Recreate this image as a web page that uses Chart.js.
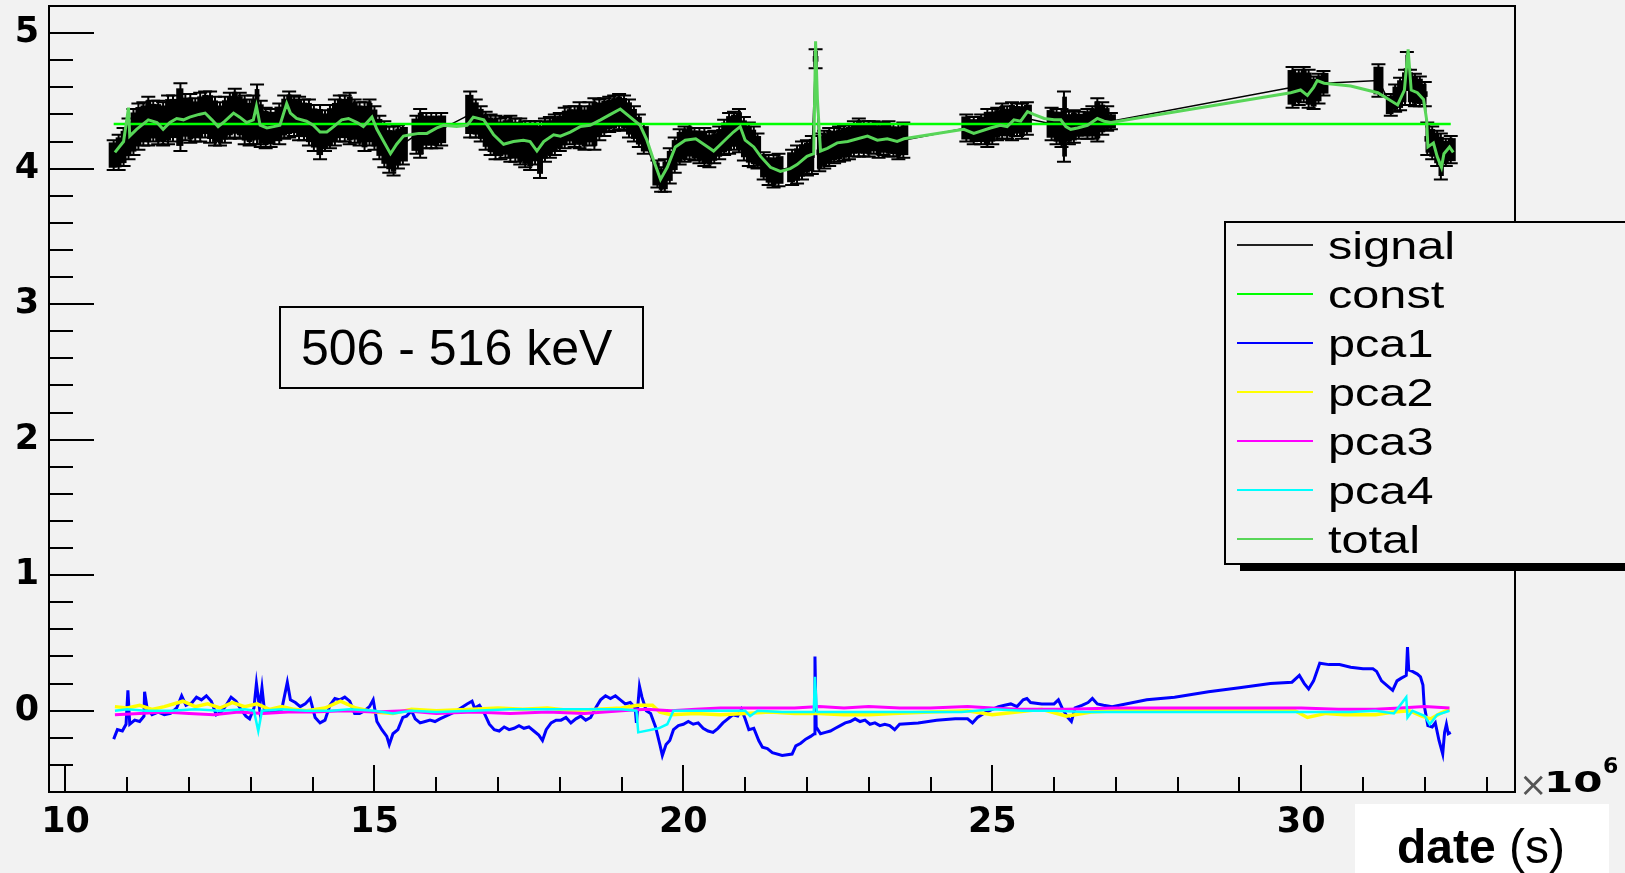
<!DOCTYPE html>
<html>
<head>
<meta charset="utf-8">
<script src="https://cdn.jsdelivr.net/npm/chart.js@4.4.1/dist/chart.umd.min.js"></script>
<style>
html,body{margin:0;padding:0;background:#f2f2f2;overflow:hidden}
canvas{display:block}
</style>
</head>
<body>
<canvas id="c" width="1625" height="873"></canvas>
<script>
// ---- data (x in units of 10^6 s) ----
const sigX = [10.78,10.86,10.94,11.02,11.10,11.18,11.26,11.34,11.42,11.50,11.58,11.66,11.74,11.86,11.94,12.02,12.10,12.18,12.26,12.34,12.42,12.50,12.58,12.66,12.74,12.82,12.90,12.98,13.04,13.10,13.16,13.24,13.32,
  13.46,13.54,13.62,13.70,13.78,13.86,13.94,14.02,14.12,14.20,14.28,14.36,14.44,14.52,14.60,14.68,14.76,14.84,14.92,15.00,15.08,15.16,15.24,15.31,15.38,15.46,
  15.68,15.74,15.84,15.92,16.00,16.08,16.55,
  16.64,16.72,16.80,16.88,16.96,17.04,17.12,17.20,17.28,17.36,17.44,17.52,17.60,17.68,17.76,17.84,17.92,18.00,18.08,18.16,18.24,18.32,18.40,18.48,18.56,18.64,18.72,18.80,18.88,18.96,19.04,19.12,19.20,19.28,19.36,
  19.58,19.64,19.70,19.78,19.86,19.94,20.02,20.10,20.18,20.26,20.34,20.42,20.50,20.58,20.66,20.74,20.82,20.90,20.98,21.06,21.14,21.20,
  21.30,21.38,21.46,21.54,
  21.76,21.84,21.92,22.00,22.08,22.14,22.20,22.28,22.36,22.44,22.52,22.60,22.68,22.76,22.84,22.92,23.00,23.08,23.16,23.24,23.32,23.40,23.48,23.56,
  24.58,24.70,24.82,24.92,25.00,25.08,25.16,25.24,25.32,25.40,25.48,25.56,
  25.96,26.04,26.12,26.16,26.24,26.32,26.40,
  26.54,26.62,26.70,26.78,26.86,26.92,
  29.86,29.96,30.04,30.12,30.20,30.28,30.36,31.25,
  31.45,31.52,31.60,31.68,31.71,31.76,31.84,31.92,32.00,
  32.04,32.12,32.20,32.26,32.34,32.42];
const sigY = [4.10,4.12,4.16,4.22,4.27,4.31,4.33,4.35,4.35,4.34,4.33,4.36,4.37,4.38,4.38,4.37,4.36,4.38,4.40,4.38,4.35,4.33,4.36,4.39,4.41,4.39,4.36,4.34,4.36,4.40,4.33,4.30,4.30,
  4.33,4.38,4.40,4.39,4.37,4.36,4.34,4.30,4.27,4.28,4.31,4.34,4.37,4.37,4.37,4.35,4.33,4.31,4.34,4.30,4.23,4.18,4.14,4.13,4.16,4.18,
  4.25,4.26,4.28,4.28,4.28,4.29,4.40,
  4.37,4.33,4.28,4.25,4.23,4.22,4.23,4.22,4.21,4.20,4.18,4.17,4.19,4.14,4.21,4.23,4.25,4.27,4.30,4.32,4.31,4.32,4.30,4.33,4.33,4.36,4.38,4.40,4.41,4.42,4.41,4.37,4.33,4.28,4.22,
  3.96,3.92,3.95,4.02,4.10,4.16,4.18,4.20,4.18,4.17,4.16,4.14,4.16,4.19,4.23,4.26,4.28,4.28,4.22,4.18,4.16,4.13,
  4.02,3.99,3.98,3.99,
  4.01,4.03,4.06,4.08,4.10,4.81,4.12,4.14,4.16,4.17,4.18,4.19,4.20,4.22,4.23,4.22,4.22,4.23,4.21,4.22,4.22,4.21,4.20,4.21,
  4.30,4.28,4.29,4.30,4.31,4.33,4.35,4.34,4.35,4.36,4.35,4.37,
  4.33,4.31,4.30,4.31,4.30,4.31,4.32,
  4.33,4.34,4.36,4.37,4.37,4.35,
  4.60,4.60,4.62,4.59,4.56,4.59,4.63,4.65,
  4.47,4.52,4.55,4.60,4.72,4.60,4.58,4.57,4.55,
  4.22,4.19,4.15,4.09,4.12,4.14];
const sigE = [0.11,0.13,0.14,0.15,0.17,0.17,0.16,0.18,0.15,0.16,0.16,0.18,0.17,0.25,0.17,0.18,0.16,0.18,0.17,0.19,0.18,0.16,0.17,0.17,0.18,0.17,0.18,0.17,0.18,0.22,0.17,0.15,0.14,
  0.15,0.16,0.17,0.15,0.16,0.15,0.17,0.17,0.20,0.15,0.16,0.17,0.17,0.17,0.19,0.16,0.16,0.18,0.17,0.16,0.16,0.17,0.17,0.18,0.16,0.15,
  0.14,0.18,0.13,0.13,0.13,0.12,0.17,
  0.14,0.13,0.14,0.15,0.16,0.15,0.15,0.17,0.16,0.17,0.17,0.18,0.16,0.21,0.16,0.15,0.15,0.14,0.15,0.14,0.15,0.17,0.16,0.16,0.19,0.15,0.14,0.13,0.13,0.13,0.13,0.14,0.13,0.12,0.11,
  0.10,0.09,0.12,0.13,0.13,0.13,0.13,0.13,0.12,0.13,0.14,0.13,0.12,0.12,0.13,0.15,0.14,0.16,0.16,0.16,0.15,0.13,
  0.10,0.11,0.12,0.12,
  0.13,0.14,0.14,0.13,0.14,0.07,0.14,0.14,0.14,0.13,0.13,0.13,0.13,0.13,0.14,0.13,0.13,0.12,0.13,0.12,0.13,0.12,0.13,0.13,
  0.10,0.10,0.11,0.14,0.13,0.12,0.13,0.12,0.14,0.12,0.13,0.12,
  0.12,0.13,0.14,0.26,0.12,0.12,0.10,
  0.11,0.12,0.16,0.12,0.09,0.06,
  0.15,0.13,0.13,0.14,0.12,0.11,0.09,0.12,
  0.08,0.10,0.12,0.13,0.14,0.13,0.12,0.11,0.09,
  0.12,0.12,0.13,0.17,0.10,0.10];

const constX = [10.78, 32.42];
const constY = [4.33, 4.33];

const totX = [10.80,10.94,11.02,11.04,11.15,11.26,11.34,11.48,11.58,11.69,11.80,11.91,12.01,12.16,12.26,12.37,12.47,12.58,12.72,12.82,
  12.93,13.04,13.09,13.15,13.26,13.37,13.47,13.58,13.64,13.74,13.90,14.01,14.12,14.23,14.34,14.47,14.58,14.72,14.82,14.96,
  15.04,15.15,15.26,15.36,15.47,15.58,15.72,15.85,16.01,16.12,16.33,16.50,16.60,16.77,16.93,17.09,17.25,17.41,17.52,17.63,
  17.74,17.90,18.01,18.17,18.33,18.49,18.66,18.82,18.98,19.14,19.30,19.41,19.52,19.63,19.74,19.87,20.03,20.20,20.36,20.49,
  20.65,20.81,20.92,21.00,21.14,21.25,21.41,21.57,21.73,21.84,22.00,22.11,22.14,22.17,22.22,22.33,22.49,22.66,22.82,22.98,
  23.14,23.30,23.46,23.57,24.54,24.70,24.97,25.13,25.24,25.35,25.46,25.57,25.67,25.84,26.00,26.11,26.19,26.27,26.38,26.54,
  26.70,26.81,26.92,29.83,29.99,30.10,30.20,30.26,30.37,30.80,31.24,31.56,31.67,31.73,31.78,31.88,31.98,32.03,32.05,32.14,
  32.20,32.27,32.31,32.40,32.46];
const totY = [4.12,4.20,4.45,4.24,4.29,4.33,4.36,4.34,4.29,4.34,4.37,4.36,4.38,4.40,4.41,4.36,4.31,4.35,4.41,4.38,
  4.34,4.36,4.46,4.32,4.30,4.31,4.32,4.48,4.41,4.37,4.35,4.32,4.27,4.27,4.31,4.36,4.37,4.34,4.31,4.38,
  4.29,4.20,4.11,4.18,4.24,4.25,4.26,4.26,4.30,4.32,4.31,4.32,4.38,4.36,4.25,4.18,4.20,4.21,4.20,4.13,
  4.20,4.25,4.24,4.27,4.31,4.32,4.36,4.40,4.44,4.38,4.32,4.21,4.06,3.92,4.01,4.16,4.21,4.22,4.17,4.13,
  4.20,4.27,4.31,4.21,4.16,4.09,4.01,3.98,4.00,4.03,4.09,4.11,4.94,4.51,4.13,4.15,4.19,4.20,4.22,4.24,
  4.21,4.22,4.20,4.22,4.29,4.26,4.30,4.32,4.31,4.36,4.35,4.42,4.40,4.37,4.36,4.36,4.31,4.29,4.30,4.32,
  4.37,4.35,4.34,4.56,4.58,4.54,4.60,4.65,4.63,4.61,4.56,4.47,4.58,4.88,4.58,4.56,4.51,4.36,4.16,4.19,
  4.09,4.01,4.11,4.16,4.12];

const pca1X = [10.78,10.84,10.92,10.98,11.01,11.04,11.12,11.20,11.27,11.28,11.32,11.40,11.50,11.60,11.70,11.80,11.88,11.95,12.05,12.12,
  12.20,12.28,12.36,12.44,12.52,12.60,12.68,12.76,12.84,12.92,12.98,13.05,13.09,13.14,13.18,13.22,13.30,13.40,13.50,13.59,
  13.64,13.72,13.80,13.88,13.96,14.04,14.12,14.20,14.28,14.36,14.44,14.52,14.60,14.68,14.76,14.84,14.92,14.98,15.04,15.12,
  15.20,15.24,15.30,15.38,15.46,15.52,15.60,15.66,15.74,15.82,15.90,15.98,16.06,16.30,16.50,16.58,16.62,16.70,16.78,16.86,
  16.94,17.02,17.10,17.18,17.26,17.34,17.42,17.50,17.58,17.66,17.72,17.78,17.86,17.94,18.02,18.10,18.18,18.26,18.34,18.42,
  18.50,18.58,18.66,18.74,18.82,18.90,18.98,19.06,19.14,19.22,19.24,19.29,19.33,19.40,19.47,19.55,19.62,19.66,19.72,19.78,
  19.84,19.92,20.00,20.08,20.16,20.24,20.32,20.40,20.48,20.56,20.64,20.72,20.80,20.88,20.94,21.00,21.06,21.14,21.22,21.28,
  21.36,21.44,21.60,21.76,21.82,21.90,21.98,22.06,22.12,22.13,22.15,22.22,22.30,22.38,22.46,22.54,22.62,22.70,22.78,22.86,
  22.94,23.02,23.10,23.18,23.26,23.34,23.42,23.50,23.80,24.10,24.40,24.60,24.68,24.76,24.90,25.00,25.10,25.20,25.30,25.40,
  25.50,25.56,25.62,25.80,26.00,26.07,26.14,26.22,26.28,26.34,26.45,26.55,26.62,26.70,26.80,26.94,27.50,27.95,28.50,29.00,
  29.50,29.85,29.97,30.05,30.12,30.20,30.30,30.45,30.62,30.80,31.00,31.16,31.22,31.30,31.48,31.55,31.62,31.70,31.72,31.74,
  31.80,31.88,31.93,31.97,31.99,32.05,32.12,32.17,32.23,32.29,32.32,32.35,32.38,32.42];
const pca1Y = [-0.21,-0.14,-0.15,-0.10,0.15,-0.10,-0.07,-0.08,-0.04,0.14,0.02,-0.03,-0.01,-0.03,-0.02,0.02,0.11,0.04,0.06,0.10,
  0.08,0.11,0.07,-0.03,-0.01,0.04,0.10,0.07,0.01,-0.04,-0.06,0.02,0.20,0.02,0.17,0.00,0.00,-0.01,0.01,0.21,
  0.08,0.06,0.03,0.05,0.09,-0.05,-0.09,-0.07,0.04,0.09,0.08,0.10,0.07,-0.02,-0.02,0.00,0.03,0.08,-0.08,-0.14,
  -0.19,-0.25,-0.17,-0.14,-0.05,-0.04,0.00,-0.06,-0.09,-0.08,-0.07,-0.08,-0.06,-0.01,0.05,0.07,0.02,0.04,-0.02,-0.10,
  -0.14,-0.15,-0.12,-0.14,-0.13,-0.11,-0.13,-0.12,-0.15,-0.18,-0.22,-0.14,-0.09,-0.07,-0.07,-0.05,-0.09,-0.06,-0.04,-0.07,
  -0.05,0.02,0.08,0.11,0.09,0.11,0.08,0.05,0.06,0.02,-0.09,0.18,0.10,0.00,-0.02,-0.12,-0.25,-0.33,-0.25,-0.22,
  -0.14,-0.11,-0.10,-0.08,-0.10,-0.09,-0.13,-0.15,-0.16,-0.13,-0.09,-0.06,-0.03,-0.04,0.01,-0.06,-0.14,-0.13,-0.22,-0.27,
  -0.28,-0.31,-0.33,-0.32,-0.26,-0.24,-0.21,-0.19,-0.17,0.40,-0.12,-0.17,-0.16,-0.15,-0.13,-0.11,-0.09,-0.08,-0.06,-0.08,
  -0.07,-0.10,-0.09,-0.11,-0.10,-0.11,-0.14,-0.10,-0.09,-0.07,-0.06,-0.06,-0.09,-0.05,-0.01,0.01,0.03,0.04,0.05,0.03,
  0.08,0.09,0.06,0.05,0.05,0.08,0.01,-0.05,-0.08,0.02,0.04,0.06,0.09,0.05,0.04,0.03,0.08,0.10,0.14,0.17,
  0.20,0.21,0.26,0.20,0.16,0.22,0.35,0.34,0.34,0.32,0.31,0.31,0.29,0.22,0.15,0.22,0.24,0.26,0.47,0.30,
  0.29,0.27,0.25,0.19,0.04,-0.11,-0.12,-0.09,-0.22,-0.32,-0.16,-0.10,-0.17,-0.16];

const pca2X = [10.80,11.00,11.20,11.40,11.60,11.90,12.10,12.30,12.50,12.70,12.90,13.10,13.30,13.50,13.70,13.90,14.20,14.45,14.70,15.00,
  15.30,15.60,16.00,16.60,17.00,17.40,17.80,18.20,18.60,19.00,19.26,19.50,19.62,19.80,20.20,20.60,21.00,21.40,21.80,22.20,
  22.60,23.00,23.40,24.00,24.60,25.00,25.40,25.80,26.20,26.60,27.00,28.00,29.00,29.90,30.10,30.40,30.70,31.20,31.50,31.75,
  31.95,32.10,32.25,32.40];
const pca2Y = [0.03,0.02,0.04,0.01,0.03,0.07,0.03,0.05,0.02,0.06,0.03,0.05,0.01,0.03,0.01,0.00,0.02,0.07,0.02,-0.01,
  -0.02,0.01,0.00,0.01,0.02,0.01,0.02,0.00,0.01,0.02,0.04,0.04,-0.01,-0.03,-0.02,-0.03,-0.02,-0.01,-0.02,-0.02,
  -0.03,-0.03,-0.02,-0.01,0.00,-0.03,-0.01,0.01,-0.04,-0.01,0.00,0.00,0.00,0.00,-0.05,-0.02,-0.03,-0.03,-0.01,0.00,
  -0.04,-0.06,-0.02,0.01];

const pca3X = [10.80,11.20,11.60,12.00,12.40,12.80,13.20,13.60,14.00,14.50,15.00,15.50,16.00,16.60,17.20,17.80,18.40,19.00,19.40,19.80,
  20.20,20.60,21.00,21.40,21.80,22.20,22.60,23.00,23.50,24.00,24.60,25.00,25.40,25.80,26.20,27.00,28.00,29.00,30.00,30.60,
  31.20,31.60,32.00,32.40];
const pca3Y = [-0.03,-0.02,-0.01,-0.02,-0.03,-0.01,-0.02,-0.01,-0.01,0.00,-0.01,0.00,-0.02,-0.01,-0.02,-0.01,-0.02,0.00,0.01,0.00,
  0.01,0.02,0.02,0.02,0.02,0.03,0.02,0.03,0.02,0.02,0.03,0.02,0.01,0.01,0.01,0.02,0.02,0.02,0.02,0.01,
  0.01,0.02,0.03,0.02];

const pca4X = [10.80,11.00,11.30,11.70,12.10,12.50,12.90,13.05,13.12,13.18,13.50,13.90,14.30,14.60,15.00,15.30,15.60,16.00,16.60,17.20,
  17.80,18.40,19.00,19.24,19.27,19.60,19.74,19.84,20.20,20.60,21.00,21.08,21.20,21.60,22.00,22.11,22.13,22.16,22.60,23.00,
  23.50,24.50,25.00,25.50,26.00,26.50,27.00,29.90,30.30,30.80,31.20,31.50,31.70,31.72,31.80,32.00,32.08,32.20,32.40];
const pca4Y = [0.00,0.01,0.00,0.00,0.01,0.00,0.01,0.00,-0.15,0.00,0.01,0.00,0.00,0.01,0.00,-0.02,0.00,-0.01,0.00,0.01,
  0.01,0.01,0.01,0.00,-0.16,-0.13,-0.10,0.00,0.00,0.00,0.00,-0.04,0.00,-0.01,-0.01,-0.01,0.25,-0.01,-0.01,-0.01,
  -0.01,-0.01,0.01,0.00,0.00,-0.01,-0.01,-0.01,-0.01,-0.01,0.00,-0.02,0.10,-0.05,0.00,-0.04,-0.10,-0.03,0.00];

const xTickValues = [10, 15, 20, 25, 30];
const yTickValues = [0, 1, 2, 3, 4, 5];
const seriesLabels = ['signal', 'const', 'pca1', 'pca2', 'pca3', 'pca4', 'total'];
const rangeLabel = '506 - 516 keV';
const axisTitleBold = 'date';
const axisTitleUnit = '(s)';

// ---- build ----
const pts = (xs, ys) => xs.map((x, i) => ({x: x, y: ys[i]}));
const BG = '#f2f2f2';

function lineDS(label, xs, ys, color, width, order) {
  return {label, data: pts(xs, ys), borderColor: color, backgroundColor: color, borderWidth: width,
          pointRadius: 0, tension: 0, fill: false, order};
}

const datasets = [
  {label: seriesLabels[0], data: pts(sigX, sigY), errors: sigE, borderColor: '#000', backgroundColor: '#000',
   borderWidth: 1.5, pointStyle: 'rect', pointRadius: 4, pointBorderWidth: 0, pointBackgroundColor: '#000',
   tension: 0, fill: false, order: 7, legendColor: '#222'},
  lineDS(seriesLabels[1], constX, constY, '#00ff00', 2.5, 6),
  lineDS(seriesLabels[2], pca1X, pca1Y, '#0000ff', 3, 5),
  lineDS(seriesLabels[3], pca2X, pca2Y, '#ffff00', 3.5, 4),
  lineDS(seriesLabels[4], pca3X, pca3Y, '#ff00ff', 3, 3),
  lineDS(seriesLabels[5], pca4X, pca4Y, '#00ffff', 2.5, 2),
  lineDS(seriesLabels[6], totX, totY, '#58d658', 3, 1)
];

function hline(c, x1, y1, x2, y2) { c.beginPath(); c.moveTo(x1, y1); c.lineTo(x2, y2); c.stroke(); }

const rootPlugin = {
  id: 'rootStyle',
  beforeDraw(chart) {
    const c = chart.ctx; c.save(); c.fillStyle = BG; c.fillRect(0, 0, chart.width, chart.height); c.restore();
  },
  afterDatasetDraw(chart, args) {
    const ds = chart.data.datasets[args.index];
    if (!ds.errors) return;
    const c = chart.ctx, ys = chart.scales.y, a = chart.chartArea;
    const els = args.meta.data, n = els.length;
    c.save();
    c.beginPath(); c.rect(a.left, a.top, a.right - a.left, a.bottom - a.top); c.clip();
    c.strokeStyle = '#000'; c.fillStyle = '#000'; c.lineWidth = 2;
    els.forEach((pt, i) => {
      const v = ds.data[i].y, e = ds.errors[i];
      const prev = i > 0 ? els[i - 1].x : -1e9, next = i < n - 1 ? els[i + 1].x : 1e9;
      const hl = Math.min(5, (pt.x - prev) / 2 + 0.5), hr = Math.min(5, (next - pt.x) / 2 + 0.5);
      const yt = ys.getPixelForValue(v + e), yb = ys.getPixelForValue(v - e);
      const ct = ys.getPixelForValue(v + 0.85 * e), cb = ys.getPixelForValue(v - 0.85 * e);
      c.fillRect(pt.x - hl, ct, hl + hr, cb - ct);
      c.beginPath();
      c.moveTo(pt.x, yt); c.lineTo(pt.x, yb);
      c.moveTo(pt.x - 7, yt); c.lineTo(pt.x + 7, yt);
      c.moveTo(pt.x - 7, yb); c.lineTo(pt.x + 7, yb);
      c.stroke();
    });
    c.restore();
  },
  afterDatasetsDraw(chart) {
    const c = chart.ctx, a = chart.chartArea, xs = chart.scales.x, ys = chart.scales.y;
    c.save();
    c.strokeStyle = '#000'; c.lineWidth = 2;
    c.strokeRect(a.left, a.top, a.right - a.left, a.bottom - a.top);
    for (let k = -2; k <= 25; k++) {
      const py = Math.round(ys.getPixelForValue(k / 5));
      const len = (k % 5 === 0) ? 45 : 24;
      hline(c, a.left, py, a.left + len, py);
    }
    for (let k = 10; k <= 33; k++) {
      const px = Math.round(xs.getPixelForValue(k));
      const len = (k % 5 === 0) ? 27 : 15;
      hline(c, px, a.bottom, px, a.bottom - len);
    }
    c.restore();
  },
  afterDraw(chart) {
    const c = chart.ctx, a = chart.chartArea;
    c.save();
    c.textBaseline = 'alphabetic';
    // x10^6 exponent
    c.fillStyle = '#555'; c.font = '34px "DejaVu Sans"';
    c.fillText('\u00d7', a.right + 4, a.bottom + 4);
    c.fillStyle = '#000';
    c.save(); c.translate(a.right + 29, a.bottom); c.scale(1.45, 1);
    c.font = 'bold 29px "DejaVu Sans"'; c.fillText('10', 0, 0); c.restore();
    c.font = 'bold 22px "DejaVu Sans"'; c.fillText('6', a.right + 88, a.bottom - 19);

    // range label box
    c.fillStyle = BG; c.fillRect(280, 307, 363, 81);
    c.strokeStyle = '#000'; c.lineWidth = 2; c.strokeRect(280, 307, 363, 81);
    c.fillStyle = '#000'; c.font = '50px "Liberation Sans"'; c.fillText(rangeLabel, 301, 365);

    // legend
    c.fillStyle = '#000'; c.fillRect(1240, 564, 400, 7);
    c.fillStyle = BG; c.fillRect(1225, 222, 420, 342);
    c.strokeStyle = '#000'; c.lineWidth = 2; c.strokeRect(1225, 222, 420, 342);
    chart.data.datasets.forEach((ds, i) => {
      const y = 244.5 + 49.1 * i;
      c.strokeStyle = ds.legendColor || ds.borderColor; c.lineWidth = 2;
      hline(c, 1237, Math.round(y), 1313, Math.round(y));
      c.save(); c.translate(1328, y + 14); c.scale(1.28, 1);
      c.font = '38px "Liberation Sans"'; c.fillStyle = '#000'; c.fillText(ds.label, 0, 0);
      c.restore();
    });

    // axis title box
    c.fillStyle = '#ffffff'; c.fillRect(1355, 804, 254, 69);
    c.fillStyle = '#000'; c.font = 'bold 48px "Liberation Sans"';
    c.fillText(axisTitleBold, 1397, 863);
    const w = c.measureText(axisTitleBold + ' ').width;
    c.font = '48px "Liberation Sans"'; c.fillText(axisTitleUnit, 1397 + w, 863);
    c.restore();
  }
};

const tickFont = {family: 'DejaVu Sans', size: 35, weight: 'bold'};

new Chart(document.getElementById('c'), {
  type: 'line',
  data: {datasets},
  options: {
    responsive: false, animation: false, devicePixelRatio: 1,
    layout: {padding: {top: 6, right: 110, left: 0, bottom: 0}},
    plugins: {legend: {display: false}, tooltip: {enabled: false}},
    scales: {
      x: {
        type: 'linear', min: 9.733, max: 33.46,
        grid: {display: false, drawTicks: false}, border: {display: false},
        ticks: {stepSize: 5, padding: 10, font: tickFont, color: '#000', autoSkip: false, maxRotation: 0},
        afterBuildTicks: (ax) => { ax.ticks = xTickValues.map(v => ({value: v})); },
        afterFit: (ax) => { ax.height = 81; ax.paddingLeft = 0; ax.paddingRight = 0; }
      },
      y: {
        type: 'linear', min: -0.6, max: 5.2,
        grid: {display: false, drawTicks: false}, border: {display: false},
        ticks: {stepSize: 1, padding: 10, font: tickFont, color: '#000', autoSkip: false},
        afterBuildTicks: (ax) => { ax.ticks = yTickValues.map(v => ({value: v})); },
        afterFit: (ax) => { ax.width = 49; ax.paddingTop = 0; ax.paddingBottom = 0; }
      }
    }
  },
  plugins: [rootPlugin]
});
</script>
</body>
</html>
